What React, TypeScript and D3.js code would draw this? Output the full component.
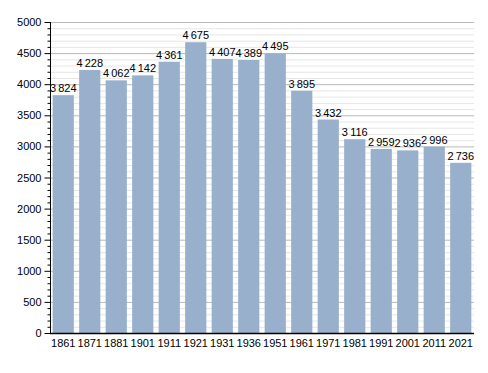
import React, { useEffect, useRef } from "react";
import * as d3 from "d3";

const years = ["1861", "1871", "1881", "1901", "1911", "1921", "1931", "1936", "1951", "1961", "1971", "1981", "1991", "2001", "2011", "2021"];
const population = [3824, 4228, 4062, 4142, 4361, 4675, 4407, 4389, 4495, 3895, 3432, 3116, 2959, 2936, 2996, 2736];
const yTicks = [0, 500, 1000, 1500, 2000, 2500, 3000, 3500, 4000, 4500, 5000];

const W = 488;
const H = 373;
const margin = { top: 22, right: 14, bottom: 40, left: 50 };

const fmt = d3.formatLocale({ decimal: ",", thousands: "\u2009", grouping: [3], currency: ["", ""] }).format(",d");

export default function App() {
  const ref = useRef<SVGSVGElement>(null);

  useEffect(() => {
    const svg = d3.select(ref.current);
    svg.selectAll("*").remove();

    const x = d3.scaleBand().domain(years).range([margin.left, W - margin.right]).paddingInner(0.2).paddingOuter(0.1);
    const y = d3.scaleLinear().domain([0, 5000]).range([H - margin.bottom, margin.top]);

    const font = "'Liberation Sans', Arial, sans-serif";

    // minor grid every 100
    svg.append("g")
      .selectAll("line")
      .data(d3.range(100, 5001, 100).filter((v) => v % 500 !== 0))
      .join("line")
      .attr("x1", margin.left)
      .attr("x2", W - margin.right)
      .attr("y1", (d) => y(d) + 0.5)
      .attr("y2", (d) => y(d) + 0.5)
      .attr("stroke", "#e6e6e6");

    // major grid
    svg.append("g")
      .selectAll("line")
      .data(yTicks.slice(1))
      .join("line")
      .attr("x1", margin.left)
      .attr("x2", W - margin.right)
      .attr("y1", (d) => y(d) + 0.5)
      .attr("y2", (d) => y(d) + 0.5)
      .attr("stroke", "#b8b8b8");

    svg.append("g")
      .selectAll("rect")
      .data(population)
      .join("rect")
      .attr("x", (d, i) => x(years[i])!)
      .attr("y", (d) => y(d))
      .attr("width", x.bandwidth())
      .attr("height", (d) => y(0) - y(d))
      .attr("fill", "#98b0cb");

    svg.append("g")
      .selectAll("text")
      .data(population)
      .join("text")
      .attr("x", (d, i) => x(years[i])! + x.bandwidth() / 2)
      .attr("y", (d) => y(d) - 3)
      .attr("text-anchor", "middle")
      .style("font", `11px ${font}`)
      .attr("fill", "#000")
      .text((d) => fmt(d));

    // y axis with minor ticks
    const yAxis = svg.append("g").attr("transform", `translate(${margin.left + 0.5},0)`);
    yAxis.call(d3.axisLeft(y).tickValues(yTicks).tickSize(6).tickPadding(3).tickFormat(d3.format("d")));
    yAxis.selectAll("text").style("font", `11px ${font}`).attr("fill", "#000");
    yAxis.select(".domain").attr("stroke", "#000").attr("d", `M0,${y(5000)}V${y(0)}`);
    yAxis.append("g")
      .selectAll("line")
      .data(d3.range(100, 5000, 100).filter((v) => v % 500 !== 0))
      .join("line")
      .attr("x1", -3)
      .attr("x2", 0)
      .attr("y1", (d) => y(d) + 0.5)
      .attr("y2", (d) => y(d) + 0.5)
      .attr("stroke", "#000");

    const xAxis = svg.append("g").attr("transform", `translate(0,${y(0) + 0.5})`);
    xAxis.call(d3.axisBottom(x).tickSize(0).tickPadding(6));
    xAxis.selectAll("text").style("font", `11px ${font}`).attr("fill", "#000");
    xAxis.select(".domain").attr("stroke", "#000").attr("stroke-width", 1.5).attr("d", `M${margin.left},0H${W - margin.right}`);
  }, []);

  return <svg ref={ref} width={W} height={H} style={{ display: "block", margin: "-8px", background: "#fff" }} />;
}
